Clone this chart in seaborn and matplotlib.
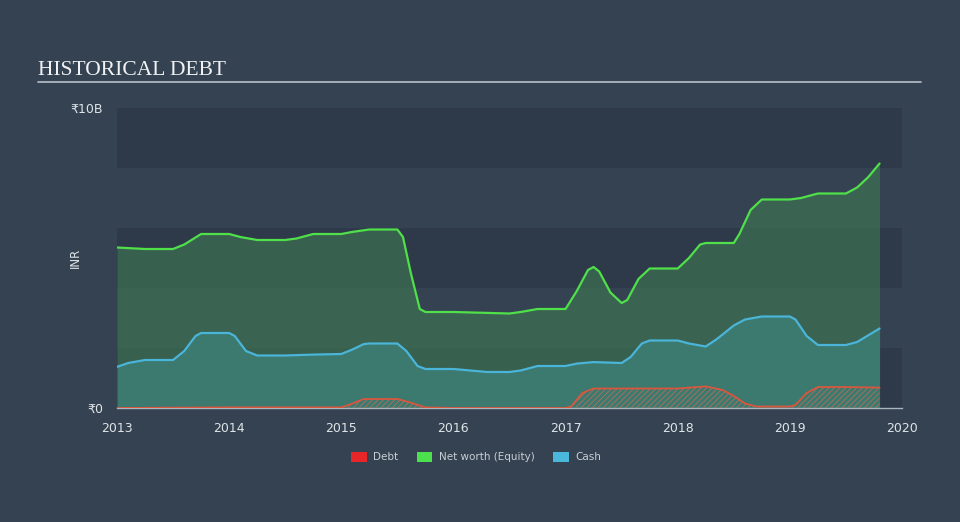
import matplotlib
matplotlib.use("Agg")
import matplotlib.pyplot as plt
from matplotlib.patches import Patch
import seaborn as sns
import pandas as pd

# ---- data (values in billions INR) ----
nw_t = [2013.0, 2013.25, 2013.5, 2013.6, 2013.75, 2014.0, 2014.1, 2014.25, 2014.5, 2014.6,
        2014.75, 2015.0, 2015.1, 2015.25, 2015.5, 2015.55, 2015.62, 2015.7, 2015.75, 2016.0,
        2016.5, 2016.6, 2016.75, 2017.0, 2017.1, 2017.2, 2017.25, 2017.3, 2017.4, 2017.5,
        2017.55, 2017.65, 2017.75, 2018.0, 2018.1, 2018.2, 2018.25, 2018.5, 2018.55, 2018.65,
        2018.75, 2019.0, 2019.1, 2019.25, 2019.5, 2019.6, 2019.7, 2019.8]
nw_v = [5.35, 5.3, 5.3, 5.45, 5.8, 5.8, 5.7, 5.6, 5.6, 5.65,
        5.8, 5.8, 5.87, 5.95, 5.95, 5.7, 4.5, 3.3, 3.2, 3.2,
        3.15, 3.2, 3.3, 3.3, 3.9, 4.6, 4.7, 4.55, 3.85, 3.5,
        3.6, 4.3, 4.65, 4.65, 5.0, 5.45, 5.5, 5.5, 5.8, 6.6,
        6.95, 6.95, 7.0, 7.15, 7.15, 7.35, 7.7, 8.15]

cash_t = [2013.0, 2013.1, 2013.25, 2013.5, 2013.6, 2013.7, 2013.75, 2014.0, 2014.05, 2014.15,
          2014.25, 2014.5, 2014.75, 2015.0, 2015.1, 2015.2, 2015.25, 2015.5, 2015.58, 2015.68,
          2015.75, 2016.0, 2016.15, 2016.3, 2016.5, 2016.6, 2016.75, 2017.0, 2017.1, 2017.25,
          2017.5, 2017.58, 2017.68, 2017.75, 2018.0, 2018.1, 2018.25, 2018.35, 2018.5, 2018.6,
          2018.75, 2019.0, 2019.05, 2019.15, 2019.25, 2019.5, 2019.6, 2019.8]
cash_v = [1.37, 1.5, 1.6, 1.6, 1.9, 2.4, 2.5, 2.5, 2.4, 1.9,
          1.75, 1.75, 1.78, 1.8, 1.95, 2.13, 2.15, 2.15, 1.9, 1.4,
          1.3, 1.3, 1.25, 1.2, 1.2, 1.25, 1.4, 1.4, 1.48, 1.53,
          1.5, 1.7, 2.15, 2.25, 2.25, 2.15, 2.05, 2.3, 2.75, 2.95,
          3.05, 3.05, 2.95, 2.4, 2.1, 2.1, 2.2, 2.65]

debt_t = [2013.0, 2014.0, 2015.0, 2015.1, 2015.2, 2015.5, 2015.6, 2015.75, 2016.0, 2017.0,
          2017.05, 2017.15, 2017.25, 2017.5, 2018.0, 2018.25, 2018.4, 2018.5, 2018.6, 2018.7,
          2019.0, 2019.05, 2019.15, 2019.25, 2019.5, 2019.8]
debt_v = [0.0, 0.02, 0.02, 0.15, 0.3, 0.3, 0.2, 0.02, 0.0, 0.0,
          0.05, 0.5, 0.65, 0.65, 0.65, 0.72, 0.6, 0.4, 0.15, 0.05,
          0.05, 0.1, 0.5, 0.7, 0.7, 0.68]

year_ticks = [2013, 2014, 2015, 2016, 2017, 2018, 2019, 2020]
y_ticks = [0, 10]
y_labels = ["₹0", "₹10B"]
legend_labels = ["Debt", "Net worth (Equity)", "Cash"]

# ---- style ----
FIG_BG = "#354251"
DARK_BAND = "#2e3a49"
TXT = "#dfe4e8"
GREEN = "#4fe04a"
BLUE = "#4ab5d8"
RED = "#d9573f"

sns.set_theme(style="white")
plt.rcParams["font.family"] = ["DejaVu Sans"]
plt.rcParams["hatch.linewidth"] = 0.6

fig = plt.figure(figsize=(9.6, 5.22), dpi=100, facecolor=FIG_BG)
ax = fig.add_axes([117 / 960, 1 - 408 / 522, (902 - 117) / 960, 300 / 522])
ax.set_facecolor(FIG_BG)

# alternating bands
for lo in [0, 4, 8]:
    ax.axhspan(lo, lo + 2, color=DARK_BAND, lw=0, zorder=0)

nw = pd.DataFrame({"t": nw_t, "v": nw_v})
cash = pd.DataFrame({"t": cash_t, "v": cash_v})
debt = pd.DataFrame({"t": debt_t, "v": debt_v})

ax.fill_between(nw["t"], 0, nw["v"], color="#3f7a52", alpha=0.6, lw=0, zorder=1)
ax.fill_between(cash["t"], 0, cash["v"], color="#3f8a86", alpha=0.6, lw=0, zorder=2)
ax.fill_between(debt["t"], 0, debt["v"], facecolor="none", edgecolor="#b0705c",
                hatch="//////", lw=0, zorder=3)

kw = dict(solid_joinstyle="round", solid_capstyle="round")
sns.lineplot(data=nw, x="t", y="v", ax=ax, color=GREEN, lw=1.6, zorder=5, **kw)
sns.lineplot(data=cash, x="t", y="v", ax=ax, color=BLUE, lw=1.6, zorder=5, **kw)
sns.lineplot(data=debt, x="t", y="v", ax=ax, color=RED, lw=1.3, zorder=5, **kw)

ax.set_xlim(2013, 2020)
ax.set_ylim(0, 10)
ax.set_xticks(year_ticks)
ax.set_xticklabels([str(y) for y in year_ticks], color=TXT, fontsize=9)
ax.set_yticks(y_ticks)
ax.set_yticklabels(y_labels, color=TXT, fontsize=9)
ax.set_xlabel("")
ax.set_ylabel("INR", color=TXT, fontsize=8.5)
ax.yaxis.set_label_coords((82 - 117) / 785, 0.5)
ax.tick_params(axis="x", colors="#aab4be", length=8, width=1, direction="out",
               labelcolor=TXT, pad=2)
ax.tick_params(axis="y", length=0, pad=10, labelcolor=TXT)
for s in ["top", "right", "left"]:
    ax.spines[s].set_visible(False)
ax.spines["bottom"].set_color("#aab4be")
ax.spines["bottom"].set_linewidth(1)

# title
fig.text(38 / 960, 1 - 75 / 522, "HISTORICAL DEBT", family="Liberation Serif",
         fontsize=15.5, color="#f0f2f4", ha="left", va="baseline")
fig.add_artist(plt.Line2D([38 / 960, 921 / 960], [1 - 82 / 522, 1 - 82 / 522],
                          color="#b8c0c8", lw=1.2))

handles = [Patch(facecolor=c, edgecolor="none") for c in ["#e8262a", "#4ce04c", "#4ab8dc"]]
leg = fig.legend(handles, legend_labels, loc="center", bbox_to_anchor=(476 / 960, 1 - 457 / 522),
                 ncol=3, frameon=False, fontsize=7.5, handlelength=1.5, handleheight=1.1,
                 columnspacing=1.8, handletextpad=0.6)
for t in leg.get_texts():
    t.set_color("#c8ced4")

fig.savefig("out.png", dpi=100, facecolor=FIG_BG)
